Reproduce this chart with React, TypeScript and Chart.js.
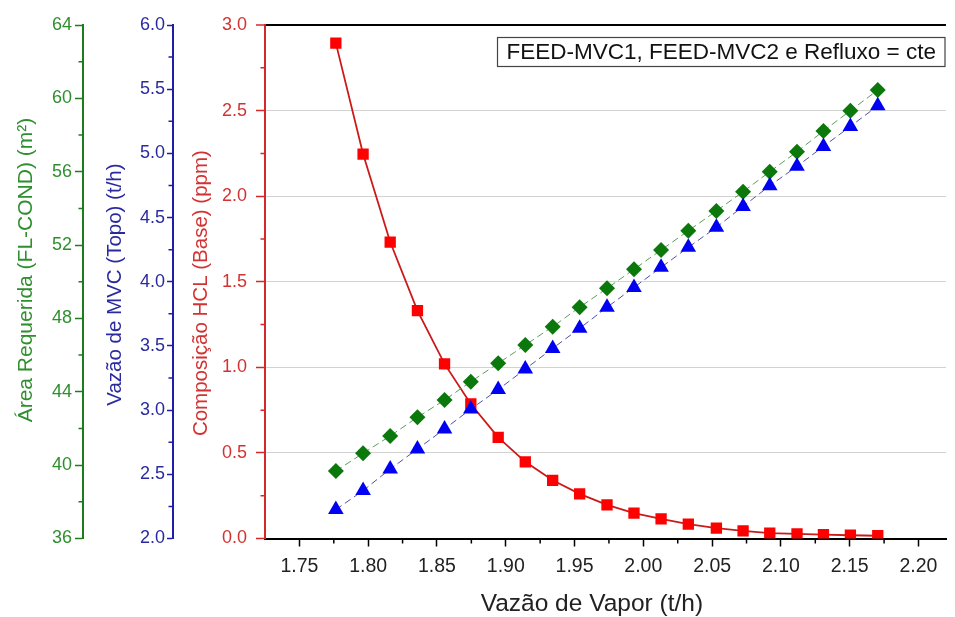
import React, { useEffect, useRef } from 'react';
import { Chart, registerables } from 'chart.js';

Chart.register(...registerables);

// ---- data ----
const vaporFlow = [1.7765, 1.7963, 1.816, 1.8358, 1.8555, 1.8746, 1.8945, 1.9142, 1.9341, 1.9537, 1.9736, 1.9932, 2.0129, 2.0327, 2.0531, 2.0725, 2.0919, 2.1117, 2.1309, 2.1505, 2.1704];
const hclBase = [2.894, 2.246, 1.732, 1.331, 1.02, 0.786, 0.591, 0.448, 0.34, 0.261, 0.196, 0.148, 0.115, 0.084, 0.061, 0.045, 0.031, 0.027, 0.023, 0.019, 0.016];
const mvcTopo = [2.225, 2.373, 2.541, 2.697, 2.853, 3.008, 3.16, 3.32, 3.481, 3.637, 3.801, 3.956, 4.112, 4.268, 4.424, 4.587, 4.748, 4.899, 5.054, 5.21, 5.371];
const areaCond = [39.68, 40.65, 41.59, 42.61, 43.55, 44.55, 45.55, 46.55, 47.55, 48.61, 49.64, 50.68, 51.73, 52.78, 53.86, 54.91, 56.0, 57.09, 58.22, 59.33, 60.45];

const xTicks = [1.75, 1.8, 1.85, 1.9, 1.95, 2.0, 2.05, 2.1, 2.15, 2.2];
const xMinor = [1.775, 1.825, 1.875, 1.925, 1.975, 2.025, 2.075, 2.125, 2.175];
const greenTicks = [36, 40, 44, 48, 52, 56, 60, 64];
const greenMinor = [38, 42, 46, 50, 54, 58, 62];
const blueTicks = [2.0, 2.5, 3.0, 3.5, 4.0, 4.5, 5.0, 5.5, 6.0];
const blueMinor = [2.25, 2.75, 3.25, 3.75, 4.25, 4.75, 5.25, 5.75];
const redTicks = [0, 0.5, 1.0, 1.5, 2.0, 2.5, 3.0];
const redMinor = [0.25, 0.75, 1.25, 1.75, 2.25, 2.75];

const xTitle = 'Vazão de Vapor (t/h)';
const greenTitle = 'Área Requerida (FL-COND) (m²)';
const blueTitle = 'Vazão de MVC (Topo) (t/h)';
const redTitle = 'Composição HCL (Base) (ppm)';
const noteText = 'FEED-MVC1, FEED-MVC2 e Refluxo = cte';

const FONT = "'Liberation Sans', Arial, Helvetica, sans-serif";
const GREEN_AXIS = '#1d7d1d';
const GREEN_TEXT = '#2f8f2f';
const GREEN_MARK = '#0a780a';
const GREEN_LINE = '#5c9c5c';
const BLUE_AXIS = '#1e1ea6';
const BLUE_TEXT = '#2a2aa0';
const BLUE_MARK = '#0000f2';
const BLUE_LINE = '#5050a8';
const RED_AXIS = '#d42828';
const RED_TEXT = '#d43232';
const RED_MARK = '#ff0000';
const RED_LINE = '#cc1a1a';

// spaces used only to nudge the centred axis titles like in the reference
const sp = (n: number) => ' '.repeat(n);

const minorPlugin = {
  id: 'minorTicks',
  afterDraw(chart: any) {
    const ctx = chart.ctx;
    const specs = [
      { id: 'x', values: xMinor, len: 5, color: '#000' },
      { id: 'yG', values: greenMinor, len: 4.5, color: GREEN_AXIS },
      { id: 'yB', values: blueMinor, len: 4.5, color: BLUE_AXIS },
      { id: 'yR', values: redMinor, len: 4.5, color: RED_AXIS },
    ];
    ctx.save();
    for (const spc of specs) {
      const s = chart.scales[spc.id];
      if (!s) continue;
      ctx.strokeStyle = spc.color;
      ctx.lineWidth = 1.5;
      ctx.beginPath();
      for (const v of spc.values) {
        const p = s.getPixelForValue(v);
        if (s.isHorizontal()) {
          ctx.moveTo(p, s.top);
          ctx.lineTo(p, s.top + spc.len);
        } else {
          ctx.moveTo(s.right - spc.len, p);
          ctx.lineTo(s.right, p);
        }
      }
      ctx.stroke();
    }
    ctx.restore();
  },
};

const notePlugin = {
  id: 'noteBox',
  afterDraw(chart: any) {
    const { ctx, chartArea } = chart;
    ctx.save();
    ctx.font = `22.5px ${FONT}`;
    const w = ctx.measureText(noteText).width;
    const right = chartArea.right - 1;
    const boxW = w + 18;
    const left = right - boxW;
    const top = chartArea.top + 12.5;
    const h = 29;
    ctx.fillStyle = '#ffffff';
    ctx.fillRect(left, top, boxW, h);
    ctx.strokeStyle = '#444';
    ctx.lineWidth = 1.2;
    ctx.strokeRect(left, top, boxW, h);
    ctx.fillStyle = '#111';
    ctx.textBaseline = 'middle';
    ctx.textAlign = 'left';
    ctx.fillText(noteText, left + 9, top + h / 2 + 1);
    ctx.restore();
  },
};

function setTicks(values: number[]) {
  return (scale: any) => {
    scale.ticks = values.map((v) => ({ value: v }));
  };
}

export default function App() {
  const ref = useRef<HTMLCanvasElement | null>(null);

  useEffect(() => {
    if (!ref.current) return;
    const chart = new Chart(ref.current, {
      type: 'line',
      data: {
        datasets: [
          {
            label: 'MVC',
            data: vaporFlow.map((x, i) => ({ x, y: mvcTopo[i] })),
            yAxisID: 'yB',
            borderColor: BLUE_LINE,
            borderWidth: 1,
            borderDash: [7, 4],
            pointStyle: 'triangle',
            pointRadius: 9,
            pointBackgroundColor: BLUE_MARK,
            pointBorderColor: BLUE_MARK,
            pointBorderWidth: 0,
            tension: 0,
            order: 1,
          },
          {
            label: 'Area',
            data: vaporFlow.map((x, i) => ({ x, y: areaCond[i] })),
            yAxisID: 'yG',
            borderColor: GREEN_LINE,
            borderWidth: 1,
            borderDash: [7, 4],
            pointStyle: 'rectRot',
            pointRadius: 8,
            pointBackgroundColor: GREEN_MARK,
            pointBorderColor: GREEN_MARK,
            pointBorderWidth: 0,
            tension: 0,
            order: 2,
          },
          {
            label: 'HCL',
            data: vaporFlow.map((x, i) => ({ x, y: hclBase[i] })),
            yAxisID: 'yR',
            borderColor: RED_LINE,
            borderWidth: 1.8,
            pointStyle: 'rect',
            pointRadius: 8,
            pointBackgroundColor: RED_MARK,
            pointBorderColor: RED_MARK,
            pointBorderWidth: 0,
            tension: 0,
            order: 3,
          },
        ],
      },
      options: {
        animation: false,
        responsive: false,
        devicePixelRatio: 1,
        layout: { padding: { left: 0, right: 1.5, top: 25, bottom: 0 } },
        plugins: {
          legend: { display: false },
          tooltip: { enabled: false },
        },
        scales: {
          x: {
            type: 'linear',
            position: 'bottom',
            min: 1.725,
            max: 2.22,
            afterBuildTicks: setTicks(xTicks),
            afterFit: (s: any) => {
              s.height = 78.5;
            },
            ticks: {
              autoSkip: false,
              maxRotation: 0,
              padding: 8,
              color: '#222',
              font: { family: FONT, size: 19.5 },
              callback: (v: any) => Number(v).toFixed(2),
            },
            grid: { drawOnChartArea: false, drawTicks: true, tickLength: 8, tickColor: '#000', tickWidth: 1.5 },
            border: { color: '#000', width: 2 },
            title: {
              display: true,
              text: xTitle + sp(4),
              color: '#222',
              font: { family: FONT, size: 24.5, lineHeight: 1 },
              padding: { top: 0, bottom: 0.5 },
            },
          },
          yR: {
            type: 'linear',
            position: 'left',
            weight: 0,
            min: 0,
            max: 3,
            afterBuildTicks: setTicks(redTicks),
            afterFit: (s: any) => {
              s.width = 92;
            },
            ticks: {
              padding: 9,
              color: RED_TEXT,
              font: { family: FONT, size: 18 },
              callback: (v: any) => Number(v).toFixed(1),
            },
            grid: {
              drawOnChartArea: true,
              color: (c: any) =>
                c.tick && c.tick.value === 3 ? '#000' : c.tick && c.tick.value === 0 ? 'rgba(0,0,0,0)' : '#d2d2d2',
              lineWidth: (c: any) => (c.tick && c.tick.value === 3 ? 2 : 1),
              tickColor: RED_AXIS,
              tickLength: 9,
              tickWidth: 1.5,
            },
            border: { color: RED_AXIS, width: 2 },
            title: {
              display: true,
              text: redTitle + sp(4),
              color: RED_TEXT,
              font: { family: FONT, size: 20.5, lineHeight: 1 },
              padding: { top: 17.75, bottom: 0 },
            },
          },
          yB: {
            type: 'linear',
            position: 'left',
            weight: 1,
            min: 2,
            max: 6,
            afterBuildTicks: setTicks(blueTicks),
            afterFit: (s: any) => {
              s.width = 90;
            },
            ticks: {
              padding: 2,
              color: BLUE_TEXT,
              font: { family: FONT, size: 18 },
              callback: (v: any) => Number(v).toFixed(1),
            },
            grid: { drawOnChartArea: false, tickColor: BLUE_AXIS, tickLength: 6, tickWidth: 1.5 },
            border: { color: BLUE_AXIS, width: 2 },
            title: {
              display: true,
              text: blueTitle + sp(1),
              color: BLUE_TEXT,
              font: { family: FONT, size: 20.5, lineHeight: 1 },
              padding: { top: 22.4, bottom: 0 },
            },
          },
          yG: {
            type: 'linear',
            position: 'left',
            weight: 2,
            min: 36,
            max: 64,
            afterBuildTicks: setTicks(greenTicks),
            afterFit: (s: any) => {
              s.width = 83;
            },
            ticks: {
              padding: 3,
              color: GREEN_TEXT,
              font: { family: FONT, size: 18 },
              callback: (v: any) => String(Math.round(Number(v))),
            },
            grid: { drawOnChartArea: false, tickColor: GREEN_AXIS, tickLength: 8, tickWidth: 1.5 },
            border: { color: GREEN_AXIS, width: 2 },
            title: {
              display: true,
              text: sp(4) + greenTitle,
              color: GREEN_TEXT,
              font: { family: FONT, size: 21, lineHeight: 1 },
              padding: { top: 15.5, bottom: 0 },
            },
          },
        },
      },
      plugins: [minorPlugin, notePlugin],
    } as any);
    return () => chart.destroy();
  }, []);

  return (
    <div style={{ position: 'absolute', left: 0, top: 0, width: 955, height: 617, background: '#fff' }}>
      <canvas ref={ref} width={955} height={617} style={{ display: 'block' }} />
    </div>
  );
}
